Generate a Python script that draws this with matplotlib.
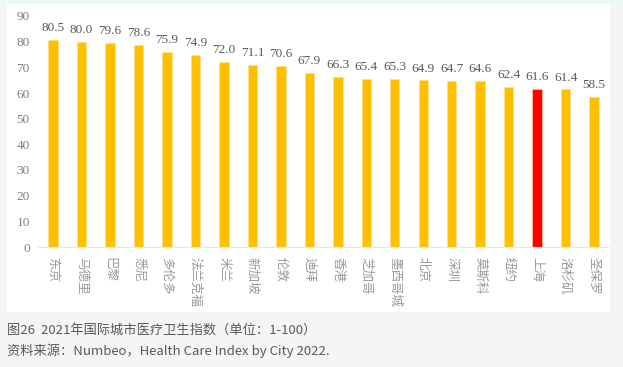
import matplotlib.pyplot as plt
from matplotlib.patches import Rectangle

cities = ["东京", "马德里", "巴黎", "悉尼", "多伦多", "法兰克福", "米兰", "新加坡", "伦敦", "迪拜",
          "香港", "芝加哥", "墨西哥城", "北京", "深圳", "莫斯科", "纽约", "上海", "洛杉矶", "圣保罗"]
values = [80.5, 80.0, 79.6, 78.6, 75.9, 74.9, 72.0, 71.1, 70.6, 67.9,
          66.3, 65.4, 65.3, 64.9, 64.7, 64.6, 62.4, 61.6, 61.4, 58.5]
highlight = "上海"
yticks = list(range(0, 100, 10))

cjk = ['Noto Sans CJK SC', 'DejaVu Sans']
serif = ['Liberation Serif', 'DejaVu Serif']

fig = plt.figure(figsize=(6.23, 3.67), dpi=100)
fig.patch.set_facecolor('#f4f6f6')

# white panel behind the chart
fig.patches.append(Rectangle((7 / 623, 1 - 312 / 367), 603 / 623, 308 / 367,
                             transform=fig.transFigure, facecolor='white', edgecolor='none', zorder=-2))
fig.patches.append(Rectangle((0, 1 - 4 / 367), 1, 4 / 367,
                             transform=fig.transFigure, facecolor='#eef7fc', edgecolor='none', zorder=-2))

ax = fig.add_axes([38 / 623, 1 - 247 / 367, 570 / 623, 231 / 367])
ax.set_facecolor('none')
ax.set_zorder(2)

x = list(range(len(values)))
colors = ['#ff0000' if c == highlight else '#ffc000' for c in cities]
ax.bar(x, values, width=0.33, color=colors, edgecolor='#ffe08a', linewidth=0.4, zorder=2)

for i, v in enumerate(values):
    ax.text(i, v + 2.3, f"{v:.1f}", ha='center', va='bottom', fontsize=9.5,
            family=serif, color='#595959')

ax.set_xlim(-0.53, len(values) - 0.51)
ax.set_ylim(0, 90)
ax.set_yticks(yticks)
ax.set_yticklabels([str(t) for t in yticks], family=serif, fontsize=9.5, color='#7f7f7f')
ax.set_xticks(x)
ax.set_xticklabels(cities, rotation=270, family=cjk, fontsize=9, color='#999999', va='top', ha='center')
ax.tick_params(axis='both', length=0)
ax.tick_params(axis='y', pad=6)
ax.tick_params(axis='x', pad=7)

for s in ['top', 'right', 'left']:
    ax.spines[s].set_visible(False)
ax.spines['bottom'].set_color('#e6e6e6')
ax.spines['bottom'].set_linewidth(0.8)

fig.text(7 / 623, 1 - 330 / 367, "图26  2021年国际城市医疗卫生指数（单位：1-100）", family=cjk,
         fontsize=9.5, color='#595959', va='center')
fig.text(7 / 623, 1 - 351 / 367, "资料来源：Numbeo，Health Care Index by City 2022.", family=cjk,
         fontsize=9.5, color='#595959', va='center')

fig.savefig("out.png", dpi=100, facecolor=fig.get_facecolor())
